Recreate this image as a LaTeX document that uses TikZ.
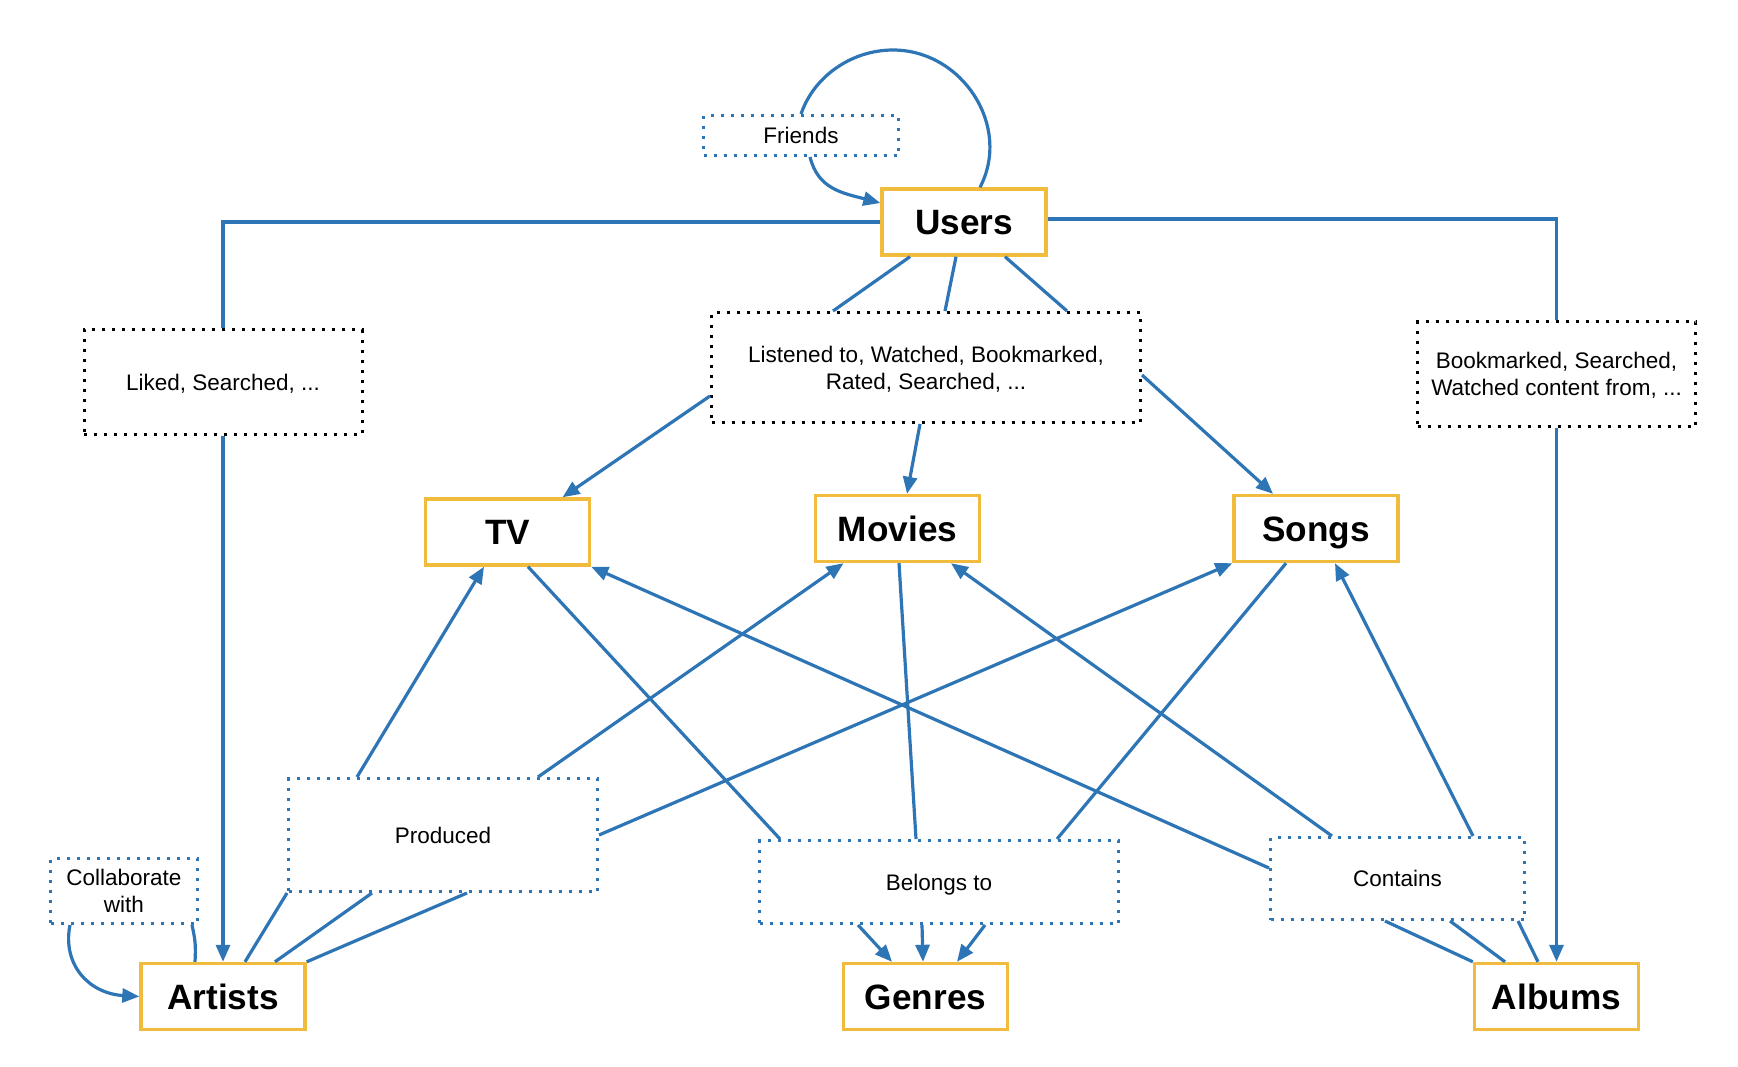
\documentclass[tikz,border=0pt]{standalone}
\usepackage{fontspec}
\setmainfont{Liberation Sans}
\usetikzlibrary{arrows.meta}
\definecolor{linkblue}{RGB}{46,117,182}
\definecolor{boxyellow}{RGB}{241,187,62}

\begin{document}
\begin{tikzpicture}[x=0.5pt, y=-0.5pt,
		entity/.style={draw=boxyellow, line width=1.7pt, minimum width=82pt, minimum height=33pt, inner sep=0pt, text height=12.6pt, text depth=-2pt, font=\fontsize{17.6}{20}\selectfont\bfseries},
		relation/.style={draw=linkblue, line width=1.5pt, dash pattern=on 1.5pt off 3.5pt, inner sep=0pt, text depth=-2pt, align=center, font=\fontsize{11.25}{13.5}\selectfont},
		action/.style={relation, draw=black},
		link/.style={linkblue, line width=1.6pt},
		arrow/.style={link, -{Triangle[length=8.5pt,width=7pt]}},
	]
	\useasboundingbox (0,0) rectangle (1738,1066);
	\node [entity] (users) at (964,222) {Users};
	\node [entity] (tv) at (507.5,532) {TV};
	\node [entity] (movies) at (897.5,528.5) {Movies};
	\node [entity] (songs) at (1316,528.5) {Songs};
	\node [entity] (artists) at (223,996.5) {Artists};
	\node [entity] (genres) at (925.5,996.5) {Genres};
	\node [entity] (albums) at (1556.5,996.5) {Albums};
	\node [relation, minimum width=97.5pt, minimum height=20pt] (friends) at (801,135.5) {Friends};
	\node [action, minimum width=139pt, minimum height=52.5pt] (liked) at (223,382) {Liked, Searched, ...};
	\node [action, minimum width=214.5pt, minimum height=55pt] (listened) at (926,367.5) {Listened to, Watched, Bookmarked,\\Rated, Searched, ...};
	\node [action, minimum width=139pt, minimum height=52.5pt] (bookmarked) at (1556.5,374) {Bookmarked, Searched,\\Watched content from, ...};
	\node [relation, minimum width=154.5pt, minimum height=56.5pt] (produced) at (443,835) {Produced};
	\node [relation, minimum width=73.5pt, minimum height=32.5pt] (collab) at (124,891) {Collaborate\\with};
	\node [relation, minimum width=179.5pt, minimum height=41.5pt] (belongs) at (939,882) {Belongs to};
	\node [relation, minimum width=127pt, minimum height=41pt] (contains) at (1397.5,878.5) {Contains};

	\draw [link] (users.west) -| (liked.north);
	\draw [arrow] (liked.south) -- (artists.north);
	\draw [link] ([yshift=1.5pt]users.east) -| (bookmarked.north);
	\draw [arrow] (bookmarked.south) -- (albums.north);
	\draw [link] ([xshift=8pt]users.north) .. controls (1012,126) and (962,50) .. (893,50) .. controls (852,50) and (814,76) .. (friends.north);
	\draw [arrow] ([xshift=4.5pt]friends.south) .. controls +(8,32) and +(-38,-10) .. ([yshift=9.5pt]users.west);
	\draw [link] ([xshift=-14pt]artists.north) .. controls +(1,-18) and +(3,14) .. ([xshift=-3.5pt]collab.south east);
	\draw [arrow] ([xshift=10.5pt]collab.south west) .. controls +(-8,40) and +(-50,-3) .. (artists.west);

	\draw [link] ([xshift=-27pt]users.south) -- ([xshift=-46.5pt]listened.north);
	\draw [link] ([xshift=-4pt]users.south) -- ([xshift=9.5pt]listened.north);
	\draw [link] ([xshift=20.5pt]users.south) -- ([xshift=70.5pt]listened.north);
	\draw [arrow] ([yshift=-14.25pt]listened.west) -- ([xshift=27.5pt]tv.north);
	\draw [arrow] ([xshift=-3pt]listened.south) -- ([xshift=4.75pt]movies.north);
	\draw [arrow] ([yshift=-3.75pt]listened.east) -- ([xshift=-21.5pt]songs.north);

	\draw [arrow] ([xshift=-43pt]produced.north) -- ([xshift=-11.75pt]tv.south);
	\draw [arrow] ([xshift=47.5pt]produced.north) -- ([xshift=-27pt]movies.south);
	\draw [arrow] (produced.east) -- (songs.south west);
	\draw [link] ([xshift=11pt]artists.north) -- (produced.south west);
	\draw [link] ([xshift=26pt]artists.north) -- ([xshift=-35.5pt]produced.south);
	\draw [link] (artists.north east) -- ([xshift=12pt]produced.south);

	\draw [link] ([xshift=10.25pt]tv.south) -- ([xshift=-79.5pt]belongs.north);
	\draw [link] ([xshift=0.75pt]movies.south) -- ([xshift=-11.5pt]belongs.north);
	\draw [link] ([xshift=-15pt]songs.south) -- ([xshift=59pt]belongs.north);
	\draw [arrow] ([xshift=-40.5pt]belongs.south) -- ([xshift=-16.75pt]genres.north);
	\draw [arrow] ([xshift=-8.5pt]belongs.south) -- ([xshift=-1.25pt]genres.north);
	\draw [arrow] ([xshift=23pt]belongs.south) -- ([xshift=15.75pt]genres.north);

	\draw [arrow] ([yshift=5.25pt]contains.west) -- (tv.south east);
	\draw [arrow] ([xshift=-32.75pt]contains.north) -- ([xshift=26.75pt]movies.south);
	\draw [arrow] ([xshift=37.75pt]contains.north) -- ([xshift=9.5pt]songs.south);
	\draw [link] (albums.north west) -- ([xshift=-6.25pt]contains.south);
	\draw [link] ([xshift=-25.75pt]albums.north) -- ([xshift=26.25pt]contains.south);
	\draw [link] ([xshift=-9.25pt]albums.north) -- ([xshift=60.25pt]contains.south);
\end{tikzpicture}
\end{document}
